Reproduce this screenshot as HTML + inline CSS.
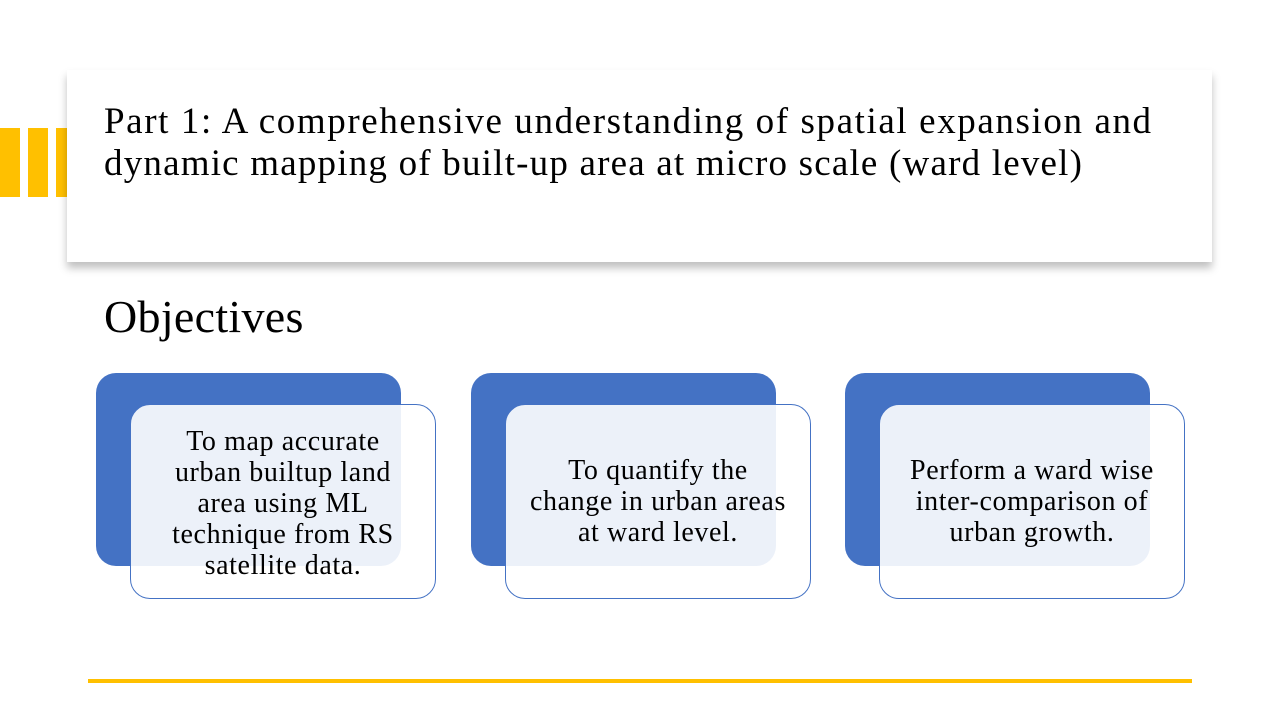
<!DOCTYPE html>
<html><head><meta charset="utf-8"><style>
*{margin:0;padding:0}
body{width:1280px;height:720px;background:#fff;position:relative;overflow:hidden;font-family:"Liberation Serif",serif;color:#000}
.y{position:absolute;background:#ffc000;top:128px;height:69px}
.card{position:absolute;left:67px;top:70px;width:1145px;height:192px;background:#fff;box-shadow:0 6px 8px rgba(0,0,0,0.25)}
.title{position:absolute;left:104px;top:101px;font-size:37px;line-height:42px;white-space:nowrap;letter-spacing:1.6px}
.obj{position:absolute;left:104px;top:289px;font-size:46px;line-height:56px;letter-spacing:0.3px}
.b{position:absolute;top:373px;width:305px;height:193px;background:#4472c4;border-radius:20px}
.f{position:absolute;top:404px;width:306px;height:195px;background:rgba(255,255,255,0.9);border:1px solid #4472c4;border-radius:20px;display:flex;align-items:center;justify-content:center;text-align:center;font-size:28px;line-height:31px;letter-spacing:0.6px;box-sizing:border-box;padding:0 4px;white-space:nowrap}
.line{position:absolute;left:88px;top:679px;width:1104px;height:4px;background:#ffc000}
</style></head><body>
<div class="y" style="left:0;width:20px"></div>
<div class="y" style="left:28px;width:20px"></div>
<div class="y" style="left:56px;width:14px"></div>
<div class="card"></div>
<div class="title">Part 1: A comprehensive understanding of spatial expansion and<br><span style="letter-spacing:1.2px">dynamic mapping of built-up area at micro scale (ward level)</span></div>
<div class="obj">Objectives</div>
<div class="b" style="left:96px"></div>
<div class="f" style="left:130px;padding-top:4px">To map accurate<br>urban builtup land<br>area using ML<br>technique from RS<br>satellite data.</div>
<div class="b" style="left:471px"></div>
<div class="f" style="left:505px">To quantify the<br>change in urban areas<br>at ward level.</div>
<div class="b" style="left:845px"></div>
<div class="f" style="left:879px">Perform a ward wise<br>inter-comparison of<br>urban growth.</div>
<div class="line"></div>
</body></html>
